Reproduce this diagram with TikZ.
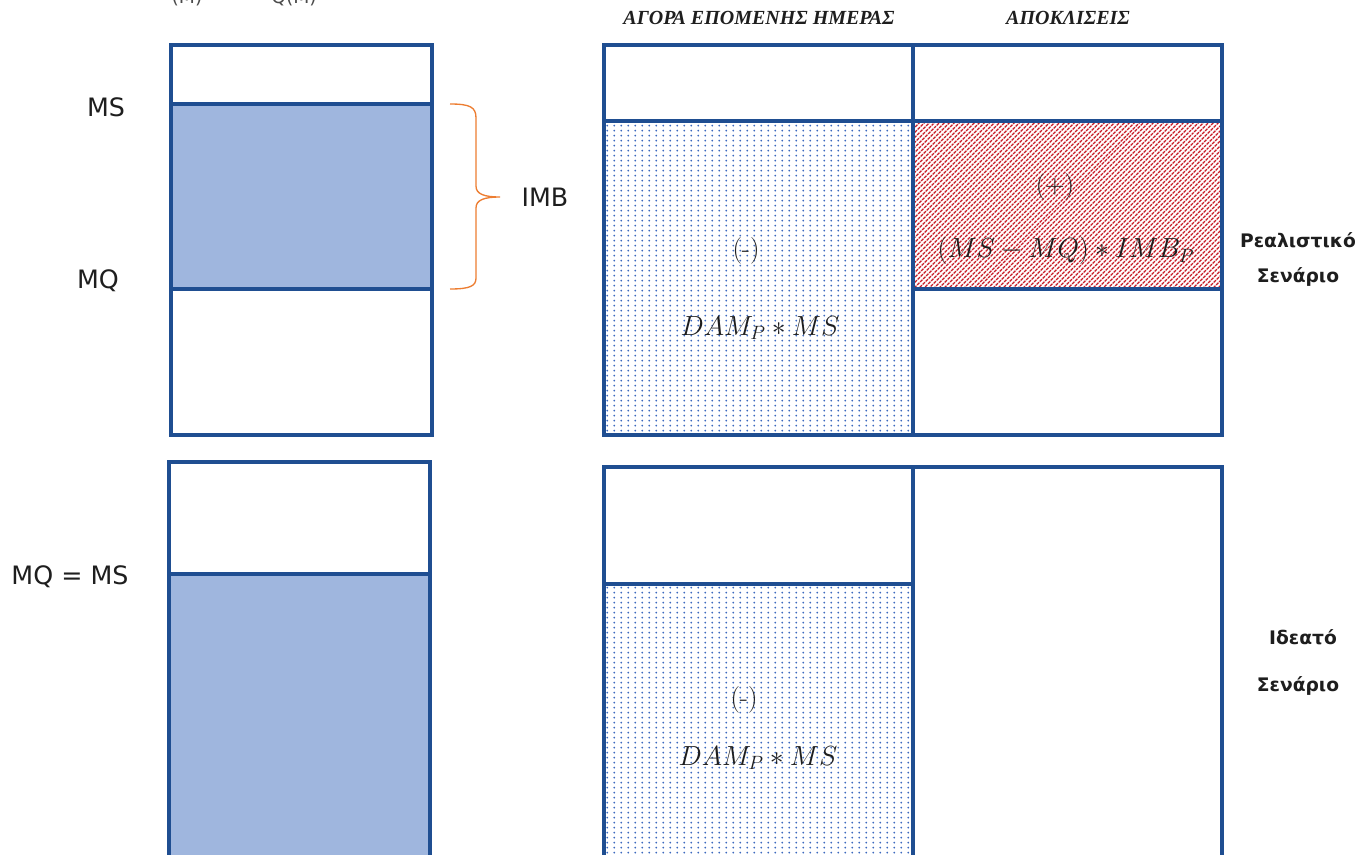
\documentclass[tikz,border=0pt]{standalone}
\usepackage{fontspec}
\usetikzlibrary{patterns.meta}
\newfontfamily\dvs{DejaVu Sans}
\newfontfamily\lserif{Liberation Serif}
\definecolor{boxblue}{RGB}{31,78,145}
\definecolor{fillblue}{RGB}{159,182,222}
\definecolor{dotblue}{RGB}{60,105,190}
\definecolor{hatchred}{RGB}{200,30,40}
\definecolor{braceorange}{RGB}{237,125,49}
\definecolor{txt}{RGB}{30,30,30}
\tikzdeclarepattern{
  name=bluedots, type=uncolored,
  bounding box={(0,0) and (5.4pt,4pt)},
  tile size={(5.4pt,4pt)},
  code={\fill (2.7pt,2pt) circle (0.75pt);}
}
\tikzdeclarepattern{
  name=redhatch, type=uncolored,
  bounding box={(0,0) and (3.3pt,3.3pt)},
  tile size={(3.3pt,3.3pt)},
  tile transformation={rotate=45},
  code={\draw[line width=1.3pt] (0,1.65pt) -- (3.3pt,1.65pt);}
}
\tikzset{
  boxline/.style={draw=boxblue, line width=2.6pt},
  bluefill/.style={fill=fillblue},
  dotfill/.style={pattern={bluedots}, pattern color=dotblue},
  hatchfill/.style={pattern={redhatch}, pattern color=hatchred},
  lab/.style={font=\dvs\fontsize{19}{23}\selectfont, text=txt, inner sep=0pt},
  side/.style={font=\dvs\bfseries\fontsize{14}{17}\selectfont, text=txt, inner sep=0pt},
  hdr/.style={font=\lserif\bfseries\itshape\fontsize{15}{18}\selectfont, text=txt, inner sep=0pt},
  mth/.style={font=\fontsize{20}{24}\selectfont, text=txt, inner sep=0pt},
  cut/.style={font=\dvs\fontsize{14}{17}\selectfont, text=txt!80, inner sep=0pt, anchor=base},
  bracestyle/.style={draw=braceorange, line width=1pt}
}
\begin{document}
\begin{tikzpicture}[x=0.75pt,y=-0.75pt]
\clip (0,0) rectangle (1371,854);
\fill[white] (0,0) rectangle (1371,854);

% cut-off text at top (as in the reference)
\node[cut] (cutA) at (187,3) {(M)};
\node[cut] (cutB) at (294,3) {Q(M)};

% ---------- top-left box ----------
\fill[bluefill] (171,104) rectangle (432,289);
\draw[boxline] (171,45) rectangle (432,435);
\draw[boxline] (171,104) -- (432,104);
\draw[boxline] (171,289) -- (432,289);

% ---------- bottom-left box ----------
\fill[bluefill] (169,574) rectangle (430,870);
\draw[boxline] (169,462) rectangle (430,870);
\draw[boxline] (169,574) -- (430,574);

% ---------- top middle / right ----------
\fill[dotfill] (604,121) rectangle (913,435);
\fill[hatchfill] (913,121) rectangle (1222,289);
\draw[boxline] (604,45) rectangle (913,435);
\draw[boxline] (913,45) rectangle (1222,435);
\draw[boxline] (604,121) -- (1222,121);
\draw[boxline] (913,289) -- (1222,289);

% ---------- bottom middle / right ----------
\fill[dotfill] (604,584) rectangle (913,870);
\draw[boxline] (604,467) rectangle (913,870);
\draw[boxline] (913,467) rectangle (1222,870);
\draw[boxline] (604,584) -- (913,584);

% ---------- brace ----------
\draw[bracestyle] (450,104) .. controls (470,104) and (476,107) .. (476,118)
  -- (476,186) .. controls (476,194) and (484,197) .. (500,197)
  .. controls (484,197) and (476,200) .. (476,208)
  -- (476,278) .. controls (476,286) and (470,289) .. (450,289);

% ---------- labels ----------
\node[lab] (ms) at (106,107) {MS};
\node[lab] (mq) at (98,281) {MQ};
\node[lab] (imb) at (545,197) {IMB};
\node[lab] (mqms) at (70,577) {MQ = MS};

\node[hdr] (h1) at (759,18) {ΑΓΟΡΑ ΕΠΟΜΕΝΗΣ ΗΜΕΡΑΣ};
\node[hdr] (h2) at (1068,18) {ΑΠΟΚΛΙΣΕΙΣ};

\node[mth] (m1) at (746,251) {(-)};
\node[mth] (m2) at (760,328) {$DAM_P \ast MS$};
\node[mth] (p1) at (1055,187) {(+)};
\node[mth] (p2) at (1066,251) {$(MS - MQ) \ast IMB_P$};
\node[mth] (m3) at (744,700) {(-)};
\node[mth] (m4) at (758,758) {$DAM_P \ast MS$};

\node[side] (r1) at (1298,240) {Ρεαλιστικό};
\node[side] (r2) at (1298,277) {Σενάριο};
\node[side] (i1) at (1303,637) {Ιδεατό};
\node[side] (i2) at (1298,686) {Σενάριο};
\end{tikzpicture}
\end{document}
